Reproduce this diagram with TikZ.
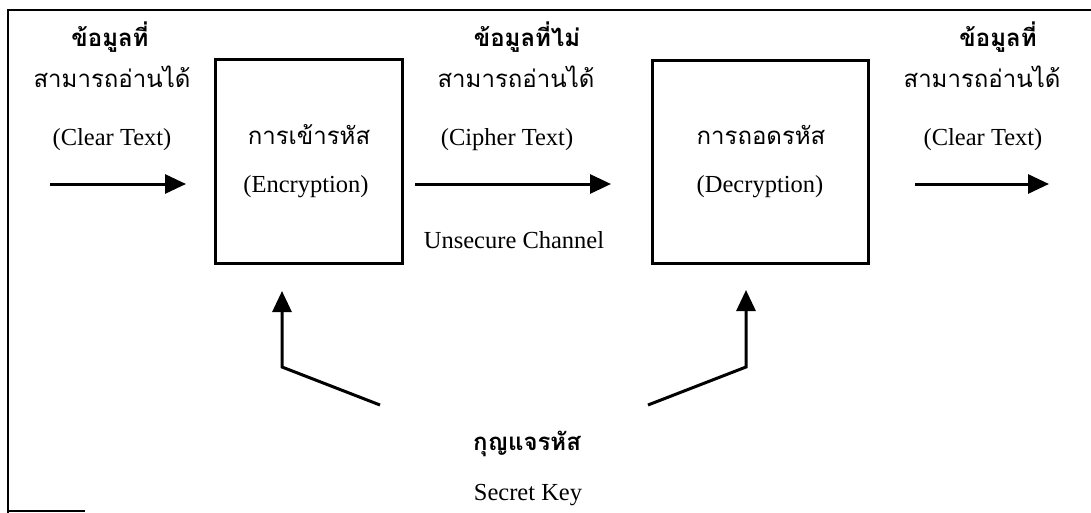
\documentclass[tikz,border=0pt]{standalone}
\usepackage{fontspec}
\setmainfont{Liberation Serif}
\newfontfamily\thai[Script=Thai]{Loma}
\usetikzlibrary{arrows.meta}
\tikzset{
  en/.style={inner sep=0pt, anchor=base, font=\fontsize{24.5pt}{26pt}\selectfont},
  th/.style={inner sep=0pt, anchor=base, font=\thai\fontsize{24pt}{26pt}\selectfont},
  thb/.style={th, font=\thai\bfseries\fontsize{24pt}{26pt}\selectfont},
  box/.style={draw, line width=3pt, inner sep=0pt},
  flow/.style={line width=3pt, -{Triangle[length=21pt,width=19pt]}},
  frame/.style={line width=2.2pt}
}
\begin{document}
\begin{tikzpicture}[x=1pt,y=-1pt]
\useasboundingbox (0,0) rectangle (1091,513);
% outer frame
\coordinate (f1) at (8,513);
\coordinate (f2) at (8,10);
\coordinate (f3) at (1091,10);
\coordinate (f4) at (8,511);
\coordinate (f5) at (85,511);
\draw[frame] (f1) -- (f2) -- (f3);
\draw[frame] (f4) -- (f5);
% boxes
\node[box, minimum width=187pt, minimum height=203pt] (enc) at (308.5,161.5) {};
\node[box, minimum width=216pt, minimum height=202pt] (dec) at (760,162) {};
% left column
\node[thb] (l1) at (110,47) {ข้อมูลที่};
\node[th]  (l2) at (112,88) {สามารถอ่านได้};
\node[en]  (l3) at (112,146) {(Clear Text)};
% middle column
\node[thb] (m1) at (527,47) {ข้อมูลที่ไม่};
\node[th]  (m2) at (516,88) {สามารถอ่านได้};
\node[en]  (m3) at (507,146) {(Cipher Text)};
\node[en]  (m4) at (514,248) {Unsecure Channel};
% right column
\node[thb] (r1) at (998,47) {ข้อมูลที่};
\node[th]  (r2) at (982,88) {สามารถอ่านได้};
\node[en]  (r3) at (983,146) {(Clear Text)};
% box texts
\node[th] (e1) at (309,145) {การเข้ารหัส};
\node[en] (e2) at (306,193) {(Encryption)};
\node[th] (d1) at (761,145) {การถอดรหัส};
\node[en] (d2) at (760,193) {(Decryption)};
% key
\node[thb] (k1) at (527,450) {กุญแจรหัส};
\node[en]  (k2) at (528,500) {Secret Key};
% flow arrows
\coordinate (a1) at (50,184);
\coordinate (a2) at (186,184);
\coordinate (b1) at (415,184);
\coordinate (b2) at (611,184);
\coordinate (c1) at (915,184);
\coordinate (c2) at (1049,184);
\draw[flow] (a1) -- (a2);
\draw[flow] (b1) -- (b2);
\draw[flow] (c1) -- (c2);
% key arrows
\coordinate (ks1) at (380,405);
\coordinate (kb1) at (282,367);
\coordinate (kt1) at (282,291);
\coordinate (ks2) at (648,405);
\coordinate (kb2) at (746,367);
\coordinate (kt2) at (746,290);
\draw[flow] (ks1) -- (kb1) -- (kt1);
\draw[flow] (ks2) -- (kb2) -- (kt2);
\end{tikzpicture}
\end{document}
